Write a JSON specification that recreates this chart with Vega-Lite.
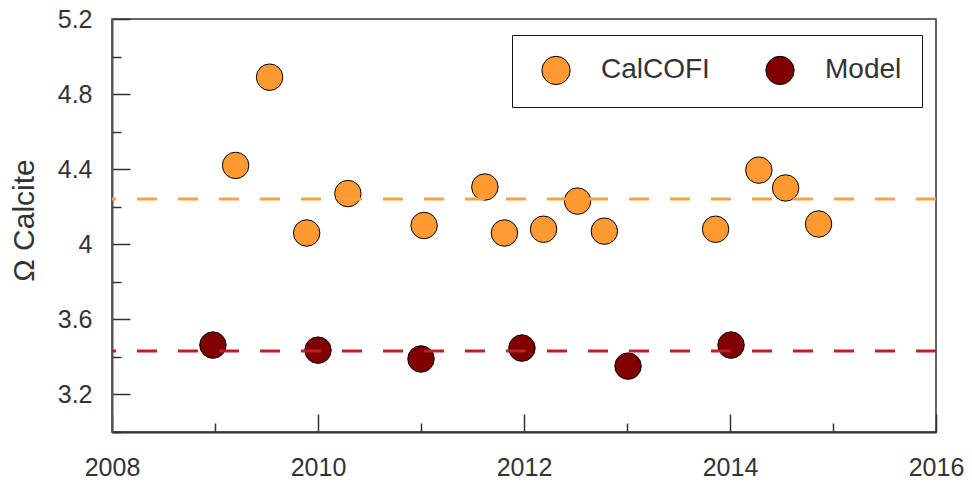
{
  "$schema": "https://vega.github.io/schema/vega-lite/v6.json",
  "width": 824,
  "height": 413,
  "autosize": {"type": "none"},
  "padding": {"left": 112, "top": 19, "right": 36, "bottom": 57},
  "background": "white",
  "config": {
    "font": "Liberation Sans",
    "view": {"stroke": "#333333", "strokeWidth": 1.5},
    "axis": {"grid": false, "labelFlush": false, "labelOverlap": false, "labelColor": "#333333", "tickColor": "#333333", "tickWidth": 1.5},
    "legend": {"symbolStrokeColor": "black", "symbolStrokeWidth": 1}
  },
  "datasets": {
    "obs": [
      {"series": "CalCOFI", "year": 2009.20, "omega": 4.42},
      {"series": "CalCOFI", "year": 2009.53, "omega": 4.89},
      {"series": "CalCOFI", "year": 2009.89, "omega": 4.06},
      {"series": "CalCOFI", "year": 2010.29, "omega": 4.27},
      {"series": "CalCOFI", "year": 2011.03, "omega": 4.10},
      {"series": "CalCOFI", "year": 2011.62, "omega": 4.305},
      {"series": "CalCOFI", "year": 2011.81, "omega": 4.06},
      {"series": "CalCOFI", "year": 2012.19, "omega": 4.08},
      {"series": "CalCOFI", "year": 2012.52, "omega": 4.23},
      {"series": "CalCOFI", "year": 2012.78, "omega": 4.07},
      {"series": "CalCOFI", "year": 2013.86, "omega": 4.08},
      {"series": "CalCOFI", "year": 2014.28, "omega": 4.395},
      {"series": "CalCOFI", "year": 2014.54, "omega": 4.30},
      {"series": "CalCOFI", "year": 2014.86, "omega": 4.108},
      {"series": "Model", "year": 2008.98, "omega": 3.463},
      {"series": "Model", "year": 2010.0, "omega": 3.436},
      {"series": "Model", "year": 2011.0, "omega": 3.389},
      {"series": "Model", "year": 2011.98, "omega": 3.447},
      {"series": "Model", "year": 2013.01, "omega": 3.351},
      {"series": "Model", "year": 2014.01, "omega": 3.463}
    ],
    "means": [
      {"series": "CalCOFI", "mean": 4.241},
      {"series": "Model", "mean": 3.431}
    ]
  },
  "resolve": {"axis": {"x": "independent", "y": "independent"}},
  "layer": [
    {
      "data": {"name": "obs"},
      "mark": {"type": "point", "shape": "circle", "filled": true, "stroke": "black", "strokeWidth": 1, "size": 700, "opacity": 1},
      "encoding": {
        "x": {
          "field": "year", "type": "quantitative",
          "scale": {"domain": [2008, 2016], "nice": false, "zero": false},
          "axis": {"orient": "bottom", "values": [2008, 2010, 2012, 2014, 2016], "format": "d", "ticks": false, "domain": false, "labelFontSize": 25, "labelPadding": 23, "title": null}
        },
        "y": {
          "field": "omega", "type": "quantitative",
          "scale": {"domain": [3.0, 5.2], "nice": false, "zero": false},
          "axis": {"orient": "left", "values": [3.2, 3.6, 4, 4.4, 4.8, 5.2], "format": ".1~f", "ticks": false, "domain": false, "labelFontSize": 25, "labelPadding": 20,
                   "title": "Ω Calcite", "titleFontSize": 30, "titleFontWeight": "normal", "titleColor": "#333333", "titleX": -88, "titleY": 201, "titleBaseline": "middle", "titleAngle": -90}
        },
        "fill": {
          "field": "series", "type": "nominal",
          "scale": {"domain": ["CalCOFI", "Model"], "range": ["#FF9A33", "#800000"]},
          "legend": {"orient": "none", "legendX": 400, "legendY": 16, "direction": "horizontal", "title": null,
                     "strokeColor": "#111111", "fillColor": "white", "padding": 20,
                     "symbolType": "circle", "symbolSize": 800, "symbolOffset": 9, "symbolOpacity": 1,
                     "symbolStrokeColor": "black", "symbolStrokeWidth": 1,
                     "labelFontSize": 28, "labelColor": "#333333", "labelOffset": 30, "columnPadding": 46,
                     "encode": {"symbols": {"update": {"stroke": {"value": "black"}, "strokeWidth": {"value": 1}}}}}
        }
      }
    },
    {
      "data": {"name": "means"},
      "transform": [{"filter": "datum.series === 'CalCOFI'"}],
      "mark": {"type": "rule", "strokeWidth": 3, "strokeDash": [20, 21], "color": "#FFA040"},
      "encoding": {
        "y": {
          "field": "mean", "type": "quantitative",
          "axis": {"orient": "left", "values": [3.2, 3.6, 4, 4.4, 4.8, 5.2], "labels": false, "tickSize": -18, "domain": true, "domainColor": "#555555", "domainWidth": 2, "title": null}
        }
      }
    },
    {
      "data": {"name": "means"},
      "transform": [{"filter": "datum.series === 'Model'"}],
      "mark": {"type": "rule", "strokeWidth": 3, "strokeDash": [20, 21], "color": "#BE1E24"},
      "encoding": {
        "y": {"field": "mean", "type": "quantitative", "axis": null}
      }
    },
    {
      "data": {"name": "obs"},
      "mark": {"type": "point", "opacity": 0},
      "encoding": {
        "x": {
          "field": "year", "type": "quantitative",
          "axis": {"orient": "bottom", "values": [2008, 2010, 2012, 2014, 2016], "labels": false, "tickSize": -18, "domain": true, "domainColor": "#333333", "domainWidth": 2, "title": null}
        },
        "y": {
          "field": "omega", "type": "quantitative",
          "axis": {"orient": "left", "values": [3.0, 3.4, 3.8, 4.2, 4.6, 5.0], "labels": false, "tickSize": -9, "domain": false, "title": null}
        }
      }
    },
    {
      "data": {"name": "obs"},
      "mark": {"type": "point", "opacity": 0},
      "encoding": {
        "x": {
          "field": "year", "type": "quantitative",
          "axis": {"orient": "bottom", "values": [2009, 2011, 2013, 2015], "labels": false, "tickSize": -9, "domain": false, "title": null}
        }
      }
    }
  ]
}
